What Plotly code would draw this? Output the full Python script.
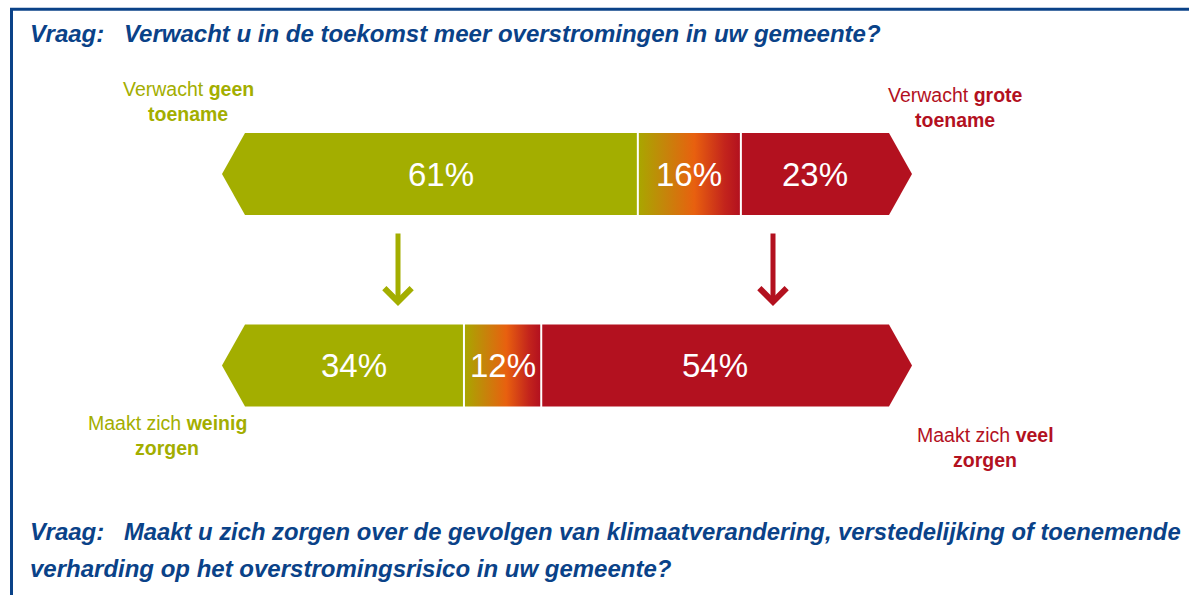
import plotly.graph_objects as go

# ---------------- data ----------------
rows = ["Verwacht toename overstromingen", "Zorgen over overstromingsrisico"]
geen = [61, 34]        # green share (geen toename / weinig zorgen)
neutraal = [16, 12]    # middle (gradient) share
veel = [23, 54]        # red share (grote toename / veel zorgen)

title_top = "Verwacht u in de toekomst meer overstromingen in uw gemeente?"
title_bot_1 = "Maakt u zich zorgen over de gevolgen van klimaatverandering, verstedelijking of toenemende"
title_bot_2 = "verharding op het overstromingsrisico in uw gemeente?"

# ---------------- style ----------------
GREEN = "#a3ae00"
RED = "#b3111f"
ORANGE = "#e8600f"
BLUE = "#0a4288"
W, H = 1189, 595
PX0, PXU = 245.0, 6.44           # pixel of 0 %, pixels per %
ROW_Y = [174, 365.5]              # bar centres (y axis in pixel-like units)
BAR_H = 82
TIP = 23 / PXU                    # arrow tip length in % units
GAP = 1.0 / PXU                   # half white gap

fig = go.Figure()

for i in range(len(rows)):
    yc = ROW_Y[i]
    a = geen[i]
    b = geen[i] + neutraal[i]
    c = b + veel[i]
    top, bot = yc - BAR_H / 2, yc + BAR_H / 2
    # arrow tips
    fig.add_trace(go.Scatter(x=[0, -TIP, 0, 0], y=[top, yc, bot, top], fill="toself",
                             fillcolor=GREEN, line=dict(width=0), mode="lines",
                             hoverinfo="skip", showlegend=False))
    fig.add_trace(go.Scatter(x=[c, c + TIP, c, c], y=[top, yc, bot, top], fill="toself",
                             fillcolor=RED, line=dict(width=0), mode="lines",
                             hoverinfo="skip", showlegend=False))
    # solid segments
    fig.add_trace(go.Bar(orientation="h", y=[yc], base=[0], x=[a - GAP], width=BAR_H,
                         marker=dict(color=GREEN, line=dict(width=0)),
                         showlegend=False, hoverinfo="skip"))
    fig.add_trace(go.Bar(orientation="h", y=[yc], base=[b + GAP], x=[c - b - GAP], width=BAR_H,
                         marker=dict(color=RED, line=dict(width=0)),
                         showlegend=False, hoverinfo="skip"))
    # gradient segment
    fig.add_trace(go.Scatter(x=[a + GAP, b - GAP, b - GAP, a + GAP, a + GAP],
                             y=[top, top, bot, bot, top], fill="toself", mode="lines",
                             line=dict(width=0),
                             fillgradient=dict(type="horizontal",
                                               colorscale=[[0, "#a9a600"], [0.25, "#c4860a"],
                                                           [0.55, ORANGE], [0.85, "#c3241c"],
                                                           [1, RED]]),
                             hoverinfo="skip", showlegend=False))
    # percentage labels
    for v, mid in [(geen[i], a / 2), (neutraal[i], (a + b) / 2), (veel[i], (b + c) / 2)]:
        fig.add_annotation(x=mid, y=yc, xref="x", yref="y", text=f"{v}%", showarrow=False,
                           font=dict(family="Liberation Sans, Arial", size=33, color="white"))

# vertical arrows
for xv, col in [((398 - PX0) / PXU, GREEN), ((773 - PX0) / PXU, RED)]:
    fig.add_annotation(x=xv, y=306, ax=xv, ay=232, xref="x", yref="y", axref="x", ayref="y",
                       text="", showarrow=True, arrowhead=4, arrowsize=1.05, arrowwidth=5,
                       arrowcolor=col)

FONT = "Liberation Sans, Arial"

def txt(x, y, s, color, size, anchor="center"):
    fig.add_annotation(x=x / W, y=1 - y / H, xref="paper", yref="paper", text=s,
                       showarrow=False, xanchor=anchor, yanchor="middle",
                       font=dict(family=FONT, size=size, color=color))

# questions
QS = 24
txt(28, 33, "<b><i>Vraag:</i></b>", BLUE, QS, "left")
txt(122, 33, f"<b><i>{title_top}</i></b>", BLUE, QS, "left")
txt(28, 531, "<b><i>Vraag:</i></b>", BLUE, QS, "left")
txt(122, 531, f"<b><i>{title_bot_1}</i></b>", BLUE, 23.8, "left")
txt(28, 568, f"<b><i>{title_bot_2}</i></b>", BLUE, QS, "left")

# side labels
LS = 19.5
txt(188, 89, "Verwacht <b>geen</b>", GREEN, LS)
txt(188, 114, "<b>toename</b>", GREEN, LS)
txt(955, 95, "Verwacht <b>grote</b>", RED, LS)
txt(955, 120, "<b>toename</b>", RED, LS)
txt(167, 423, "Maakt zich <b>weinig</b>", GREEN, LS)
txt(167, 448, "<b>zorgen</b>", GREEN, LS)
txt(985, 435, "Maakt zich <b>veel</b>", RED, LS)
txt(985, 460, "<b>zorgen</b>", RED, LS)

# frame (top and left border)
fig.add_shape(type="line", xref="paper", yref="paper", x0=10 / W, x1=1, y0=1 - 9.3 / H, y1=1 - 9.3 / H,
              line=dict(color=BLUE, width=3))
fig.add_shape(type="line", xref="paper", yref="paper", x0=11.5 / W, x1=11.5 / W, y0=0, y1=1 - 8 / H,
              line=dict(color=BLUE, width=3))

fig.update_layout(
    width=W, height=H, margin=dict(l=0, r=0, t=0, b=0),
    paper_bgcolor="white", plot_bgcolor="white",
    barmode="overlay", showlegend=False,
    xaxis=dict(range=[-PX0 / PXU, (W - PX0) / PXU], visible=False, fixedrange=True),
    yaxis=dict(range=[H, 0], visible=False, fixedrange=True),
)

fig.write_html("out.html", config={"displayModeBar": False},
               post_script="document.body.style.margin='0px';document.body.style.overflow='hidden';")
